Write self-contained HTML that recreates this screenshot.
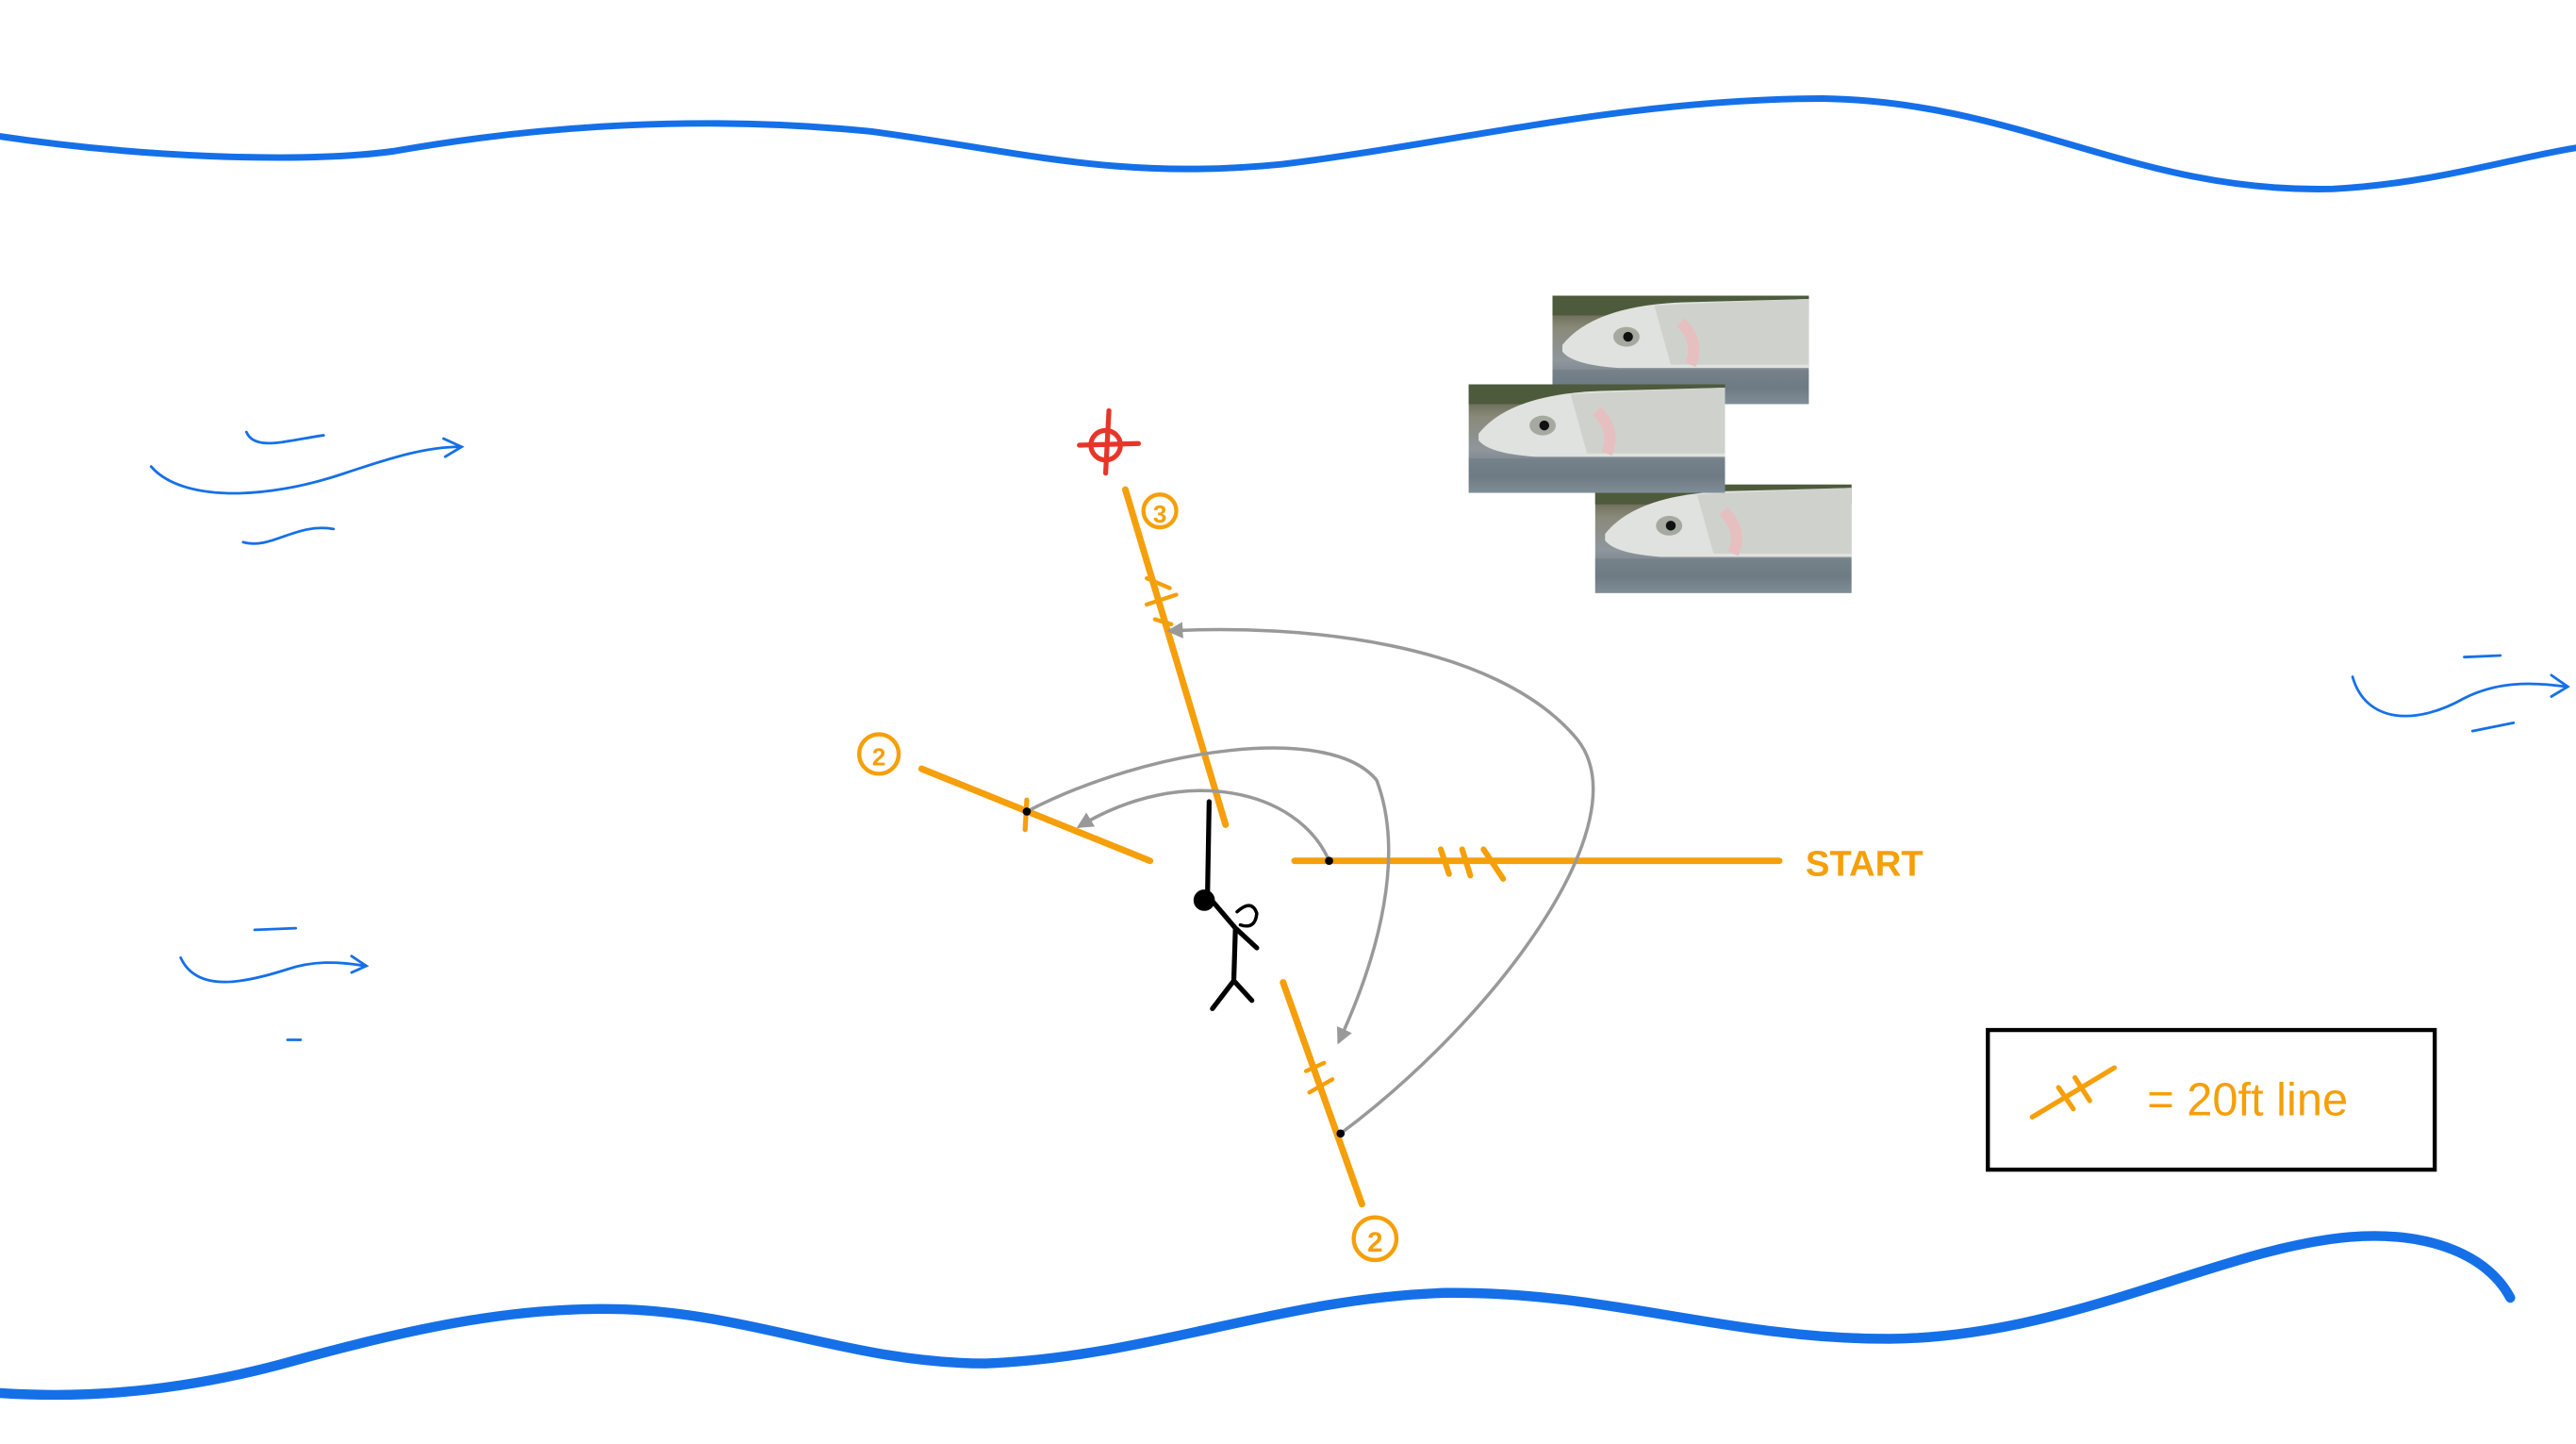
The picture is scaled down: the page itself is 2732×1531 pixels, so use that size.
<!DOCTYPE html>
<html><head><meta charset="utf-8"><style>html,body{margin:0;padding:0;background:#fff}svg{display:block}</style></head>
<body>
<svg width="2732" height="1531" viewBox="0 0 1568 879" preserveAspectRatio="none" xmlns="http://www.w3.org/2000/svg">
<defs>
<linearGradient id="bg" x1="0" y1="0" x2="0" y2="1">
<stop offset="0" stop-color="#4a4a32"/><stop offset="0.3" stop-color="#8a8a7a"/><stop offset="0.6" stop-color="#8f969c"/><stop offset="0.85" stop-color="#6d7a84"/><stop offset="1" stop-color="#9aaab4"/></linearGradient>
<g id="fish">
<rect width="156" height="66" fill="url(#bg)"/>
<rect width="156" height="12" fill="#4d5a3c"/>
<path d="M6 30 Q25 6 80 4 L156 2 L156 44 L40 44 Q12 42 6 34 Z" fill="#dfe2de"/>
<path d="M62 6 Q100 4 156 2 L156 42 L72 42 Z" fill="#cfd2cc"/>
<ellipse cx="45" cy="25" rx="8" ry="6" fill="#a4aaa0"/>
<circle cx="46" cy="25" r="3" fill="#111"/>
<path d="M78 16 Q90 28 84 42" stroke="#e6c0c0" stroke-width="7" fill="none"/>
<rect y="45" width="156" height="21" fill="#6e7b84" opacity="0.6"/>
</g>
<marker id="ar" viewBox="0 0 10 10" refX="8" refY="5" markerWidth="5" markerHeight="5" orient="auto"><path d="M0 0 L10 5 L0 10 Z" fill="#999"/></marker>
</defs>
<g fill="none" stroke-linecap="round">
<path d="M0 83 C80 95 180 100 240 92 C330 76 430 70 530 80 C620 92 680 110 780 100 C880 88 990 60 1110 60 C1230 62 1300 118 1420 115 C1480 112 1530 96 1568 90" stroke="#1570e8" stroke-width="4"/>
<path d="M0 848 C60 852 120 845 180 828 C260 806 320 795 380 797 C460 800 520 830 600 830 C700 826 780 790 880 787 C980 786 1050 815 1150 815 C1260 814 1350 760 1430 753 C1480 749 1515 765 1528 790" stroke="#1570e8" stroke-width="6"/>
<g stroke="#1570e8" stroke-width="1.6">
<path d="M92 284 C110 305 160 305 210 288 C240 278 260 272 280 272"/><path d="M270 267 L281 272 L271 278"/>
<path d="M150 263 C155 275 175 268 197 265"/>
<path d="M148 330 C165 335 180 318 203 322"/>
<path d="M110 583 C120 605 150 598 175 590 C190 585 205 585 222 588"/><path d="M214 582 L223 588 L214 592"/>
<path d="M155 566 L180 565"/><path d="M175 633 L183 633"/>
<path d="M1432 412 C1440 440 1470 442 1500 425 C1520 415 1540 415 1562 418"/><path d="M1553 411 L1563 418 L1553 424"/>
<path d="M1500 400 L1522 399"/><path d="M1505 445 L1530 440"/>
</g>
<g stroke="#f59f0a" stroke-width="4">
<path d="M685 298 L746 502"/>
<path d="M561 468 L700 524"/>
<path d="M788 524 L1083 524"/>
<path d="M781 598 L829 733"/>
<path d="M877 517 L882 532 M890 517 L895 533 M903 517 L915 535" stroke-width="3.5"/>
<path d="M698 352 L712 358 M698 368 L716 362 M703 377 L713 380" stroke-width="2.5"/>
<path d="M795 652 L806 647 M797 665 L811 657" stroke-width="2.5"/>
<path d="M625 487 L624 505" stroke-width="3"/>
</g>
<g stroke="#f59f0a" stroke-width="2.5">
<circle cx="706" cy="311" r="10"/><circle cx="535" cy="459" r="12"/><circle cx="837" cy="754" r="13"/>
</g>
<g stroke="#999" stroke-width="2">
<path d="M809 524 C790 480 720 465 657 503" marker-end="url(#ar)"/>
<path d="M625 494 C700 455 810 440 838 475 C855 520 840 580 815 634" marker-end="url(#ar)"/>
<path d="M816 690 C910 620 1000 500 960 450 C910 390 790 380 712 384" marker-end="url(#ar)"/>
</g>
<circle cx="809" cy="524" r="2.5" fill="#000"/><circle cx="816" cy="690" r="2.5" fill="#000"/><circle cx="625" cy="494" r="2.5" fill="#000"/>
<g stroke="#e8352a" stroke-width="3"><circle cx="673" cy="271" r="9"/><path d="M657 271 L693 270 M675 250 L673 288"/></g>
<g stroke="#000" stroke-width="3">
<path d="M736 488 L735 545"/>
<circle cx="733" cy="548" r="5" fill="#000"/>
<path d="M735 545 L752 565 L765 577 M752 565 L751 597 L738 614 M751 597 L762 609"/>
<path d="M753 555 Q762 547 765 556 Q764 566 755 563" stroke-width="2"/>
</g>
<rect x="1210" y="627" width="272" height="85" stroke="#000" stroke-width="2.5"/>
<path d="M1237 680 L1287 650 M1253 662 L1262 675 M1263 656 L1272 670" stroke="#f59f0a" stroke-width="3"/>
</g>
<text x="1307" y="679" font-family="Liberation Sans, sans-serif" font-size="28" fill="#f59f0a">= 20ft line</text>
<text x="1099" y="533" font-family="Liberation Sans, sans-serif" font-size="22" font-weight="bold" fill="#f59f0a">START</text>
<text x="706" y="318" font-family="Liberation Sans, sans-serif" font-size="15" font-weight="bold" fill="#f59f0a" text-anchor="middle">3</text>
<text x="535" y="466" font-family="Liberation Sans, sans-serif" font-size="15" font-weight="bold" fill="#f59f0a" text-anchor="middle">2</text>
<text x="837" y="762" font-family="Liberation Sans, sans-serif" font-size="17" font-weight="bold" fill="#f59f0a" text-anchor="middle">2</text>
<use href="#fish" x="945" y="180"/>
<use href="#fish" x="971" y="295"/>
<use href="#fish" x="894" y="234"/>
</svg>
</body></html>
